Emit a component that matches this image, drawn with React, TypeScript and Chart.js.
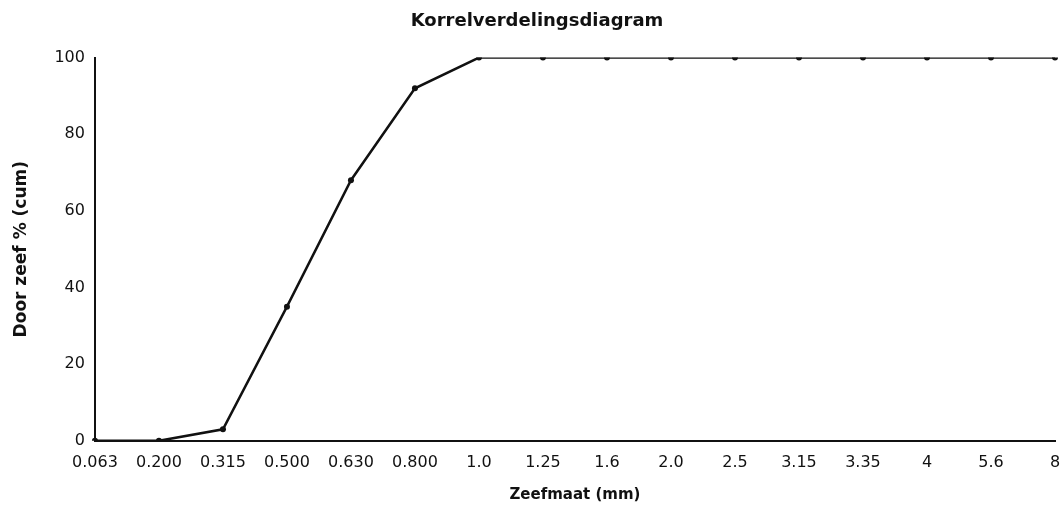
import React, { useEffect, useRef } from "react";
import { Chart, registerables } from "chart.js";
Chart.register(...registerables);

const sieveSizes = ["0.063", "0.200", "0.315", "0.500", "0.630", "0.800", "1.0", "1.25", "1.6", "2.0", "2.5", "3.15", "3.35", "4", "5.6", "8"];
const passingCum = [0, 0, 3, 35, 68, 92, 100, 100, 100, 100, 100, 100, 100, 100, 100, 100];
const yTicks = [0, 20, 40, 60, 80, 100];

export default function App() {
  const ref = useRef<HTMLCanvasElement | null>(null);
  useEffect(() => {
    document.body.style.margin = "0";
    const font = "'DejaVu Sans', 'Liberation Sans', sans-serif";
    const chart = new Chart(ref.current!, {
      type: "line",
      data: {
        labels: sieveSizes,
        datasets: [
          {
            data: passingCum,
            borderColor: "#111",
            backgroundColor: "#111",
            borderWidth: 2.5,
            pointRadius: 3,
            pointBackgroundColor: "#111",
            pointBorderWidth: 0,
            tension: 0,
          },
        ],
      },
      options: {
        responsive: false,
        animation: false,
        layout: { padding: { left: 11, right: 0, top: 0, bottom: 2 } },
        plugins: {
          legend: { display: false },
          tooltip: { enabled: false },
          title: {
            display: true,
            text: "Korrelverdelingsdiagram",
            color: "#111",
            font: { family: font, size: 18, weight: "bold" },
            padding: { top: 11, bottom: 25 },
          },
        },
        scales: {
          x: {
            offset: false,
            grid: { display: false, drawTicks: false },
            border: { display: true, color: "#111", width: 2 },
            afterFit: (scale: any) => {
              scale.paddingRight = 8;
            },
            ticks: {
              color: "#111",
              font: { family: font, size: 16 },
              padding: 12,
              maxRotation: 0,
              autoSkip: false,
            },
            title: {
              display: true,
              text: "Zeefmaat (mm)",
              color: "#111",
              font: { family: font, size: 15, weight: "bold" },
              padding: { top: 2, bottom: 0 },
            },
          },
          y: {
            min: 0,
            max: 100,
            afterBuildTicks: (scale: any) => {
              scale.ticks = yTicks.map((v) => ({ value: v }));
            },
            grid: { display: false, drawTicks: false },
            border: { display: true, color: "#111", width: 2 },
            ticks: {
              color: "#111",
              font: { family: font, size: 16 },
              padding: 10,
            },
            title: {
              display: true,
              text: "Door zeef % (cum)",
              color: "#111",
              font: { family: font, size: 17, weight: "bold" },
              padding: { top: 0, bottom: 13 },
            },
          },
        },
      },
    });
    return () => chart.destroy();
  }, []);
  return (
    <div style={{ width: 1063, height: 506, background: "#fff" }}>
      <canvas ref={ref} width={1063} height={506} />
    </div>
  );
}
